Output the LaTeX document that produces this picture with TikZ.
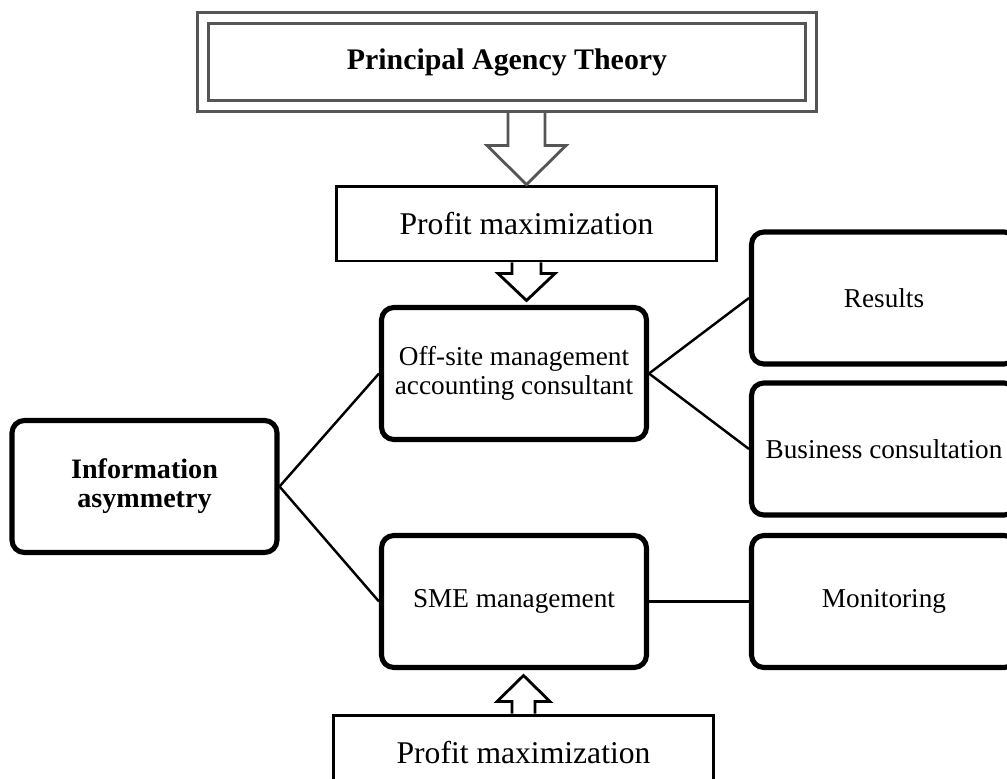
\documentclass[tikz,border=0pt]{standalone}
\usepackage{fontspec}
\setmainfont{Liberation Serif}
\usetikzlibrary{calc}
\definecolor{framegray}{RGB}{85,85,85}

\begin{document}
\begin{tikzpicture}[x=0.02cm, y=-0.02cm,
        roundbox/.style={draw, line width=2.9pt, rounded corners=7pt, minimum width=5.3cm, minimum height=2.64cm, inner sep=0pt, align=center, font=\fontsize{15.5}{16.5}\selectfont},
        plainbox/.style={draw, line width=1.7pt, minimum width=7.62cm, minimum height=1.5cm, inner sep=0pt, font=\fontsize{18}{20}\selectfont},
        titlebox/.style={draw=framegray, line width=1.6pt, double=white, double distance=4.8pt, minimum width=12.17cm, minimum height=1.75cm, inner sep=0pt, font=\bfseries\fontsize{17}{19}\selectfont},
        link/.style={line width=1.4pt},
        hollow/.style={line width=1.6pt, line join=miter}
      ]
        \clip (0,0) rectangle (1007,778);

        % Theorie und Ziele
        \node[titlebox] (theory) at (507,62) {Principal Agency Theory};
        \node[plainbox] (profittop) at (526.5,223.5) {Profit maximization};
        \node[plainbox] (profitbot) at (523.5,752.5) {Profit maximization};

        % Akteure
        \node[roundbox] (consultant) at (514,373.5) {Off-site management\\accounting consultant};
        \node[roundbox] (sme) at (514,601.5) {SME management};
        \node[roundbox, font=\bfseries\fontsize{16}{16.5}\selectfont] (asym) at (144.5,486.5) {Information\\asymmetry};

        % Aufgaben
        \node[roundbox] (results) at (884,298) {Results};
        \node[roundbox] (business) at (884,449) {Business consultation};
        \node[roundbox] (monitor) at (884,601.5) {Monitoring};

        % Blockpfeile
        \draw[hollow, framegray] (profittop.north) ++(-18.5,-73) -- ++(0,34) -- ++(-21,0)
            -- (profittop.north) -- ++(39.5,-39) -- ++(-21,0) -- ++(0,-34);
        \draw[hollow] (profittop.south) ++(-14.5,0) -- ++(0,11) -- ++(-14,0)
            -- ++(28.5,27) -- ++(28.5,-27) -- ++(-14,0) -- ++(0,-11);
        \draw[hollow] (profitbot.north) ++(-11.5,0) -- ++(0,-12) -- ++(-15,0)
            -- ++(26.5,-26) -- ++(26.5,26) -- ++(-15,0) -- ++(0,12);

        % Verbindungen
        \draw[link] (asym.east) -- (consultant.west);
        \draw[link] (asym.east) -- (sme.west);
        \draw[link] (consultant.east) -- (results.west);
        \draw[link] (consultant.east) -- (business.west);
        \draw[link] (sme.east) -- (monitor.west);
      \end{tikzpicture}
\end{document}
